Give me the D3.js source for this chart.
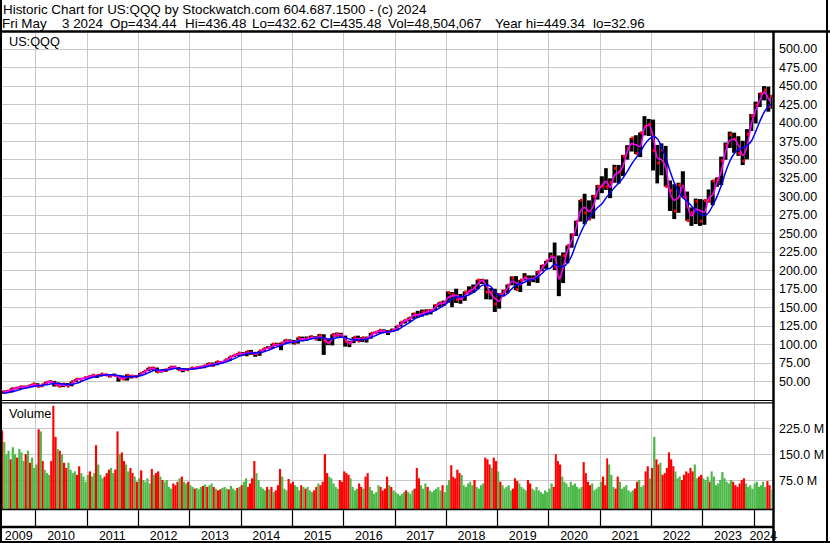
<!DOCTYPE html>
<html>
<head>
<meta charset="utf-8">
<script src="https://cdn.jsdelivr.net/npm/d3@7"></script>
<style>
  html, body { margin: 0; padding: 0; background: #fff; }
  svg { display: block; font-family: Arial, "Liberation Sans", sans-serif; }
</style>
</head>
<body>
<div id="chart"></div>
<script>
// ---- data (monthly price bars from May 2009, semi-monthly volume) ----
const startMonth = "2009-05-01";

const priceHigh = [
  36.3, 37.6, 40.2, 41.3, 42.9, 43.8, 44.1, 46.5,
  47.0, 44.9, 48.6, 50.6, 50.1, 48.0, 46.5, 47.2, 49.2, 52.5, 54.0, 54.7,
  56.8, 58.6, 58.3, 59.8, 59.8, 58.2, 60.0, 58.0, 57.3, 59.0, 58.4, 57.8,
  60.8, 63.7, 68.0, 69.1, 68.2, 64.6, 66.6, 69.0, 70.6, 68.9, 66.3, 67.4,
  68.2, 68.9, 69.8, 71.1, 74.6, 75.1, 76.5, 77.0, 79.1, 82.9, 85.5, 88.1,
  89.3, 90.3, 92.1, 89.5, 91.0, 94.1, 97.1, 100.5, 101.8, 101.8, 106.1, 106.4,
  105.4, 109.0, 110.1, 110.3, 111.4, 110.6, 113.5, 113.3, 106.6, 113.3, 115.5, 115.3,
  111.5, 104.6, 109.5, 111.4, 109.4, 110.2, 115.1, 117.0, 119.1, 120.0, 119.0, 121.0,
  124.5, 130.2, 133.1, 136.2, 142.2, 145.0, 146.7, 147.0, 147.1, 153.6, 156.6, 158.9,
  171.3, 170.5, 175.0, 167.9, 171.3, 178.2, 180.7, 187.2, 188.0, 187.5, 175.9, 174.9,
  168.9, 173.6, 180.6, 191.7, 192.0, 187.0, 196.0, 193.0, 193.0, 198.9, 207.1, 212.6,
  223.8, 237.5, 220.0, 224.0, 233.5, 249.8, 267.0, 295.0, 303.5, 294.6, 302.0, 315.4,
  327.2, 338.2, 324.5, 342.8, 342.6, 356.0, 369.3, 379.3, 382.8, 386.6, 408.7, 404.9,
  404.0, 369.7, 371.8, 368.4, 321.5, 316.5, 318.5, 334.0, 306.5, 285.1, 297.0, 296.4,
  295.6, 309.4, 321.9, 325.7, 353.8, 372.9, 387.7, 386.3, 381.5, 375.3, 391.0, 411.6,
  428.3, 440.2, 449.3, 448.6, 436.5
];

const priceLow = [
  33.0, 34.9, 34.6, 38.9, 39.3, 40.6, 41.0, 42.8,
  42.6, 41.7, 44.7, 47.3, 42.5, 42.6, 41.8, 42.9, 42.8, 48.5, 51.2, 52.6,
  54.3, 55.7, 54.2, 56.2, 57.0, 54.8, 56.6, 49.2, 52.3, 50.6, 53.4, 54.7,
  56.6, 60.5, 63.3, 65.1, 61.5, 61.4, 62.3, 64.9, 67.8, 64.8, 61.9, 63.9,
  66.3, 66.1, 67.2, 67.3, 70.2, 69.6, 71.3, 74.9, 75.5, 77.0, 82.2, 83.9,
  85.0, 83.5, 85.4, 82.8, 84.1, 90.6, 93.5, 93.8, 97.6, 91.7, 100.8, 101.0,
  99.7, 100.6, 104.7, 104.3, 106.9, 106.7, 104.1, 85.4, 98.6, 98.2, 110.0, 108.9,
  96.6, 95.9, 101.2, 104.0, 102.8, 102.1, 107.4, 114.0, 114.8, 115.5, 112.3, 116.2,
  118.4, 123.6, 127.8, 130.4, 134.4, 135.2, 137.3, 138.9, 140.2, 145.3, 150.0, 151.6,
  156.0, 150.0, 155.7, 154.6, 158.6, 168.3, 169.3, 174.5, 181.3, 160.7, 160.4, 143.5,
  148.0, 164.9, 168.9, 179.5, 173.0, 170.5, 186.0, 178.9, 183.8, 182.8, 198.5, 202.0,
  211.0, 200.3, 164.9, 182.6, 209.4, 230.5, 246.3, 265.9, 262.3, 267.9, 269.8, 295.6,
  304.4, 308.8, 297.6, 318.5, 317.4, 327.5, 349.8, 360.7, 357.4, 353.2, 382.6, 381.8,
  335.1, 317.6, 328.6, 313.3, 280.3, 269.3, 277.8, 298.6, 267.2, 260.1, 262.5, 260.1,
  261.5, 291.7, 288.0, 313.0, 315.2, 349.6, 365.6, 359.0, 354.9, 342.4, 350.2, 388.6,
  398.8, 421.0, 430.0, 414.7, 418.5
];

const priceClose = [
  35.6, 36.4, 39.8, 40.4, 42.3, 41.3, 43.6, 46.1,
  42.6, 44.9, 48.2, 49.3, 45.7, 42.9, 45.9, 43.0, 49.1, 52.4, 52.3, 54.5,
  56.1, 57.9, 57.5, 59.4, 58.2, 57.2, 57.7, 54.0, 52.5, 57.7, 56.4, 55.8,
  60.3, 63.5, 67.5, 67.5, 62.4, 64.2, 64.9, 68.8, 68.6, 65.2, 65.6, 65.1,
  67.7, 67.9, 69.0, 70.6, 73.3, 71.2, 76.0, 75.2, 78.9, 82.8, 85.1, 87.9,
  86.2, 89.9, 87.7, 86.9, 90.9, 93.9, 94.9, 100.0, 98.8, 101.4, 105.1, 103.3,
  101.2, 108.6, 105.6, 107.6, 110.0, 106.8, 111.9, 104.3, 101.8, 113.0, 113.5, 111.9,
  103.3, 101.3, 109.2, 104.1, 108.6, 107.5, 114.6, 116.0, 118.7, 116.9, 117.1, 118.5,
  124.2, 129.7, 132.4, 135.5, 140.9, 137.6, 143.3, 145.3, 145.5, 152.4, 155.8, 155.8,
  169.8, 167.0, 160.1, 161.5, 170.6, 171.7, 176.4, 186.7, 186.6, 170.5, 169.8, 154.3,
  167.2, 171.6, 179.7, 189.5, 174.1, 186.7, 190.7, 186.6, 188.8, 197.9, 206.1, 212.6,
  219.1, 204.8, 190.4, 219.9, 233.3, 247.6, 265.8, 294.9, 277.8, 269.4, 300.0, 313.7,
  314.0, 313.0, 319.1, 337.9, 333.4, 354.4, 365.0, 379.1, 357.9, 386.1, 394.8, 397.9,
  362.3, 345.3, 362.5, 313.5, 308.0, 280.3, 315.4, 298.9, 267.3, 278.0, 293.4, 266.3,
  294.5, 294.0, 320.9, 322.5, 348.4, 369.4, 383.7, 377.4, 358.3, 347.9, 384.2, 409.5,
  423.8, 439.0, 444.0, 422.0, 435.5
];

// magenta (short) moving average per month
const maFast = [
  35.0, 36.2, 37.8, 40.0, 41.5, 41.9, 42.5, 44.7,
  44.5, 43.2, 46.8, 49.2, 47.0, 44.4, 44.2, 44.6, 46.0, 50.8, 52.8, 53.6,
  55.5, 57.2, 56.5, 58.2, 58.9, 57.0, 58.2, 55.2, 53.5, 55.0, 56.6, 56.0,
  58.2, 62.1, 65.7, 67.2, 64.5, 63.0, 64.4, 67.0, 69.0, 66.8, 64.6, 65.6,
  66.7, 67.8, 68.6, 69.6, 72.2, 72.4, 74.0, 75.8, 77.2, 80.8, 84.2, 86.5,
  87.2, 87.6, 88.8, 86.5, 88.7, 92.4, 94.7, 97.0, 99.6, 98.2, 103.6, 104.2,
  102.5, 105.0, 107.0, 106.6, 108.8, 108.5, 109.6, 108.4, 101.2, 107.0, 112.9, 112.6,
  106.6, 101.0, 106.0, 107.6, 106.0, 107.6, 111.3, 115.6, 117.2, 118.0, 115.6, 118.0,
  121.4, 127.0, 131.5, 133.5, 138.7, 139.8, 141.0, 143.4, 144.8, 149.4, 154.6, 155.3,
  162.8, 165.2, 166.0, 160.5, 165.8, 171.8, 174.5, 181.2, 186.3, 179.5, 168.0, 162.0,
  158.0, 169.0, 175.5, 185.0, 183.0, 180.0, 189.7, 187.8, 188.0, 192.5, 202.2, 209.5,
  216.8, 218.0, 188.0, 204.0, 226.8, 240.5, 257.2, 280.0, 285.0, 279.5, 287.0, 307.0,
  314.8, 320.4, 312.0, 328.5, 332.5, 341.2, 360.6, 371.5, 369.8, 367.5, 393.0, 396.6,
  380.2, 352.0, 349.6, 339.3, 305.0, 295.0, 298.4, 315.0, 288.2, 273.5, 282.8, 280.6,
  278.6, 297.5, 302.3, 319.6, 334.0, 361.0, 375.8, 377.4, 368.6, 355.5, 368.2, 398.0,
  416.6, 430.5, 441.2, 432.5, 428.0
];

// blue (long) moving average per month
const maSlow = [
  33.5, 34.2, 35.3, 36.8, 38.6, 40.0, 41.1, 42.6,
  43.4, 44.0, 44.8, 46.0, 46.6, 46.5, 46.0, 45.2, 45.2, 46.8, 48.7, 51.2,
  53.3, 55.0, 56.3, 57.6, 58.1, 58.3, 58.2, 57.4, 56.2, 55.6, 55.7, 56.0,
  57.0, 58.8, 61.3, 63.9, 65.0, 65.0, 64.8, 65.6, 66.8, 67.0, 66.6, 66.0,
  66.0, 66.5, 67.5, 68.6, 70.0, 71.3, 72.8, 74.0, 75.6, 77.7, 80.3, 83.0,
  85.0, 86.8, 87.8, 88.0, 88.5, 89.6, 91.5, 94.0, 96.2, 98.2, 100.4, 102.0,
  102.6, 103.8, 104.6, 105.4, 106.8, 107.8, 108.4, 108.5, 106.9, 107.0, 108.7, 109.4,
  108.8, 106.8, 105.8, 105.4, 106.1, 106.7, 108.8, 111.4, 114.0, 115.5, 116.6, 117.3,
  118.9, 121.9, 125.4, 129.0, 133.2, 136.5, 138.6, 140.8, 143.0, 145.3, 148.8, 152.0,
  156.6, 161.0, 163.4, 164.0, 164.6, 166.8, 170.0, 174.4, 179.5, 180.4, 178.0, 171.0,
  166.0, 165.0, 168.6, 175.0, 179.8, 181.6, 183.8, 186.7, 187.6, 190.6, 195.5, 201.0,
  203.0, 208.0, 205.0, 205.0, 210.0, 220.0, 236.0, 250.0, 262.0, 271.0, 278.0, 285.0,
  290.0, 298.0, 305.0, 312.0, 318.0, 325.0, 334.0, 344.0, 352.0, 360.0, 370.0, 377.0,
  381.0, 378.0, 367.0, 352.0, 334.0, 318.0, 306.0, 298.0, 293.0, 287.0, 280.0, 276.0,
  274.0, 278.0, 288.0, 300.0, 315.0, 333.0, 348.0, 358.0, 364.0, 366.0, 369.0, 375.0,
  388.0, 402.0, 414.0, 422.0, 425.0
];

// volume in millions, two bars per month
const volume = [
  219, 185, 150, 160, 135, 170, 150, 140, 165, 155, 130, 150, 160, 125, 140, 110,
  120, 222, 216, 130, 105, 95, 90, 130, 290, 200, 165, 160, 150, 125, 110, 125, 105, 95, 100, 90, 115, 95, 85, 70,
  90, 100, 85, 95, 176, 120, 90, 80, 85, 95, 105, 110, 95, 105, 216, 150, 155, 130, 120, 100, 110, 95, 85, 70,
  80, 103, 75, 70, 80, 65, 107, 90, 95, 100, 85, 75, 70, 75, 55, 50, 65, 60, 70, 80, 85, 70, 65, 70,
  60, 55, 50, 52, 48, 55, 58, 62, 55, 60, 65, 55, 50, 45, 48, 52, 55, 50, 48, 58, 50, 45, 52, 55,
  60, 70, 80, 55, 65, 80, 130, 95, 75, 55, 50, 45, 55, 48, 55, 40, 45, 60, 107, 85, 50, 45, 78, 65,
  70, 60, 55, 45, 60, 55, 50, 55, 45, 40, 45, 55, 65, 60, 70, 150, 95, 85, 80, 65, 55, 50, 75, 70,
  100, 95, 90, 80, 55, 45, 50, 65, 55, 50, 85, 95, 55, 45, 35, 40, 60, 55, 45, 50, 85, 60, 55, 45,
  40, 35, 30, 35, 40, 45, 40, 35, 45, 50, 110, 80, 60, 50, 65, 55, 45, 40, 45, 50, 55, 45, 60, 40,
  60, 75, 118, 85, 80, 105, 95, 90, 60, 55, 65, 70, 60, 75, 55, 50, 60, 65, 140, 135, 120, 110, 140, 130,
  100, 70, 60, 50, 55, 60, 45, 50, 80, 72, 65, 55, 50, 45, 75, 65, 50, 45, 55, 45, 40, 35, 45, 40,
  50, 65, 55, 150, 130, 120, 85, 70, 65, 55, 70, 60, 65, 55, 50, 55, 127, 95, 70, 60, 65, 45, 50, 55,
  70, 85, 60, 138, 120, 90, 55, 50, 85, 70, 50, 55, 60, 45, 40, 45, 50, 70, 75, 55, 60, 100, 115, 80,
  110, 200, 135, 120, 125, 90, 95, 110, 155, 135, 115, 100, 80, 85, 75, 90, 100, 95, 110, 100, 120, 80, 85, 90,
  80, 75, 85, 70, 100, 85, 60, 65, 75, 98, 80, 70, 65, 75, 70, 60, 55, 65, 75, 80, 65, 55, 60, 50,
  65, 70, 55, 60, 70, 55, 72, 60, 48
];

// r = down period, g = up period
const volumeDir = [
  "rgggrggrgggrgrgg",
  "grgrgggrrrgrgrrggggrrggg",
  "grggrgggrrrggrrgrrggrrgr",
  "grggggrgrrgrggggrrrgrggr",
  "ggrgggrgrggrgrrgggrgggrg",
  "rggrrrrgggggrgrgrrrgggrr",
  "rgggrgrgggrrgrrrrgggggrr",
  "rrrggggrrgrrgggggrrrrgrg",
  "gggggrgggrrrgggrggggggrg",
  "ggrrrrrggggggrggggrrrgrr",
  "grgggggrrrggggrrgggggggg",
  "ggrrrrggggggggggrrrrgggg",
  "grrrgggrrgggggggrrgggrrg",
  "rgrrgrrrrrrgggrrrrrrggrr",
  "gggrggggggggggrrrrrrgggg",
  "ggggggrrg"
].join("");

const years = ["2009", "2010", "2011", "2012", "2013", "2014", "2015", "2016",
  "2017", "2018", "2019", "2020", "2021", "2022", "2023", "2024"];
const priceTicks = [50, 75, 100, 125, 150, 175, 200, 225, 250, 275, 300, 325, 350, 375, 400, 425, 450, 475, 500];
const volumeTicks = [75, 150, 225];

const titleLine = "Historic Chart for US:QQQ by Stockwatch.com 604.687.1500 - (c) 2024";
const quoteParts = ["Fri May", "3 2024", "Op=434.44", "Hi=436.48", "Lo=432.62", "Cl=435.48",
  "Vol=48,504,067", "Year hi=449.34", "lo=32.96"];
const quoteX = [2, 62, 110, 185, 252, 320, 388, 495, 593];

// ---- layout ----
const width = 830, height = 543;
const plotLeft = 2, plotRight = 773;
const priceTop = 33, priceBottom = 400;
const volTop = 403, volBottom = 509;

const svg = d3.select('#chart')
  .append('svg')
  .attr('width', width)
  .attr('height', height);

svg.append('rect').attr('width', width).attr('height', height).attr('fill', '#fff');

const parse = d3.utcParse('%Y-%m-%d');
const m0 = parse(startMonth);
const monthStart = i => d3.utcMonth.offset(m0, i);
const lastDay = parse('2024-05-04');

const x = d3.scaleUtc()
  .domain([parse('2009-05-08'), lastDay])
  .range([2, 771]);

const yPrice = d3.scaleLinear().domain([50, 500]).range([381, 48.7]);
const yVol = d3.scaleLinear().domain([0, 300]).range([505.9, 402.4]);

// clip paths
const defs = svg.append('defs');
defs.append('clipPath').attr('id', 'clipPrice').append('rect')
  .attr('x', plotLeft).attr('y', priceTop).attr('width', plotRight - plotLeft).attr('height', priceBottom - priceTop);
defs.append('clipPath').attr('id', 'clipVol').append('rect')
  .attr('x', plotLeft).attr('y', volTop).attr('width', plotRight - plotLeft).attr('height', volBottom - volTop);

const grid = '#c8c8c8';
const yearBounds = years.slice(1).map(y => x(parse(`${y}-01-01`)));

// horizontal grid
svg.append('g').selectAll('line')
  .data(priceTicks).enter().append('line')
  .attr('x1', plotLeft).attr('x2', plotRight)
  .attr('y1', d => Math.round(yPrice(d)) + 0.5).attr('y2', d => Math.round(yPrice(d)) + 0.5)
  .attr('stroke', grid);

svg.append('g').selectAll('line')
  .data(volumeTicks).enter().append('line')
  .attr('x1', plotLeft).attr('x2', plotRight)
  .attr('y1', d => Math.round(yVol(d)) + 0.5).attr('y2', d => Math.round(yVol(d)) + 0.5)
  .attr('stroke', grid);

// vertical grid at year boundaries
const vg = svg.append('g');
yearBounds.forEach(bx => {
  const px = Math.round(bx) + 0.5;
  vg.append('line').attr('x1', px).attr('x2', px).attr('y1', priceTop).attr('y2', priceBottom).attr('stroke', grid);
  vg.append('line').attr('x1', px).attr('x2', px).attr('y1', volTop).attr('y2', volBottom).attr('stroke', grid);
});

// price bars
const months = d3.range(priceHigh.length);
const monthEnd = i => (i === priceHigh.length - 1 ? lastDay : monthStart(i + 1));

const pricePanel = svg.append('g').attr('clip-path', 'url(#clipPrice)');

pricePanel.append('g').selectAll('rect')
  .data(months).enter().append('rect')
  .attr('x', i => x(monthStart(i)))
  .attr('width', i => Math.max(1.5, x(monthEnd(i)) - x(monthStart(i)) - 0.3))
  .attr('y', i => yPrice(priceHigh[i]))
  .attr('height', i => Math.max(1.5, yPrice(priceLow[i]) - yPrice(priceHigh[i])))
  .attr('fill', '#000');

// close marks
pricePanel.append('g').selectAll('rect')
  .data(months).enter().append('rect')
  .attr('x', i => (x(monthStart(i)) + x(monthEnd(i))) / 2 - 0.5)
  .attr('width', 2.5)
  .attr('y', i => yPrice(priceClose[i]) - 1.5)
  .attr('height', 3)
  .attr('fill', '#ff0000');

const monthMid = i => new Date((monthStart(i).getTime() + monthEnd(i).getTime()) / 2);

const lineFast = d3.line()
  .x(i => x(monthMid(i)))
  .y(i => yPrice(maFast[i]))
  .curve(d3.curveMonotoneX);

const lineSlow = d3.line()
  .x(i => x(monthMid(i)))
  .y(i => yPrice(maSlow[i]))
  .curve(d3.curveMonotoneX);

pricePanel.append('path').datum(months)
  .attr('d', lineFast)
  .attr('fill', 'none')
  .attr('stroke', '#ff00ff')
  .attr('stroke-width', 1.6);

pricePanel.append('path').datum(months)
  .attr('d', lineSlow)
  .attr('fill', 'none')
  .attr('stroke', '#0000ff')
  .attr('stroke-width', 1.5);

// volume bars
const volPanel = svg.append('g').attr('clip-path', 'url(#clipVol)');
const halfStart = i => {
  const m = Math.floor(i / 2);
  return i % 2 ? d3.utcDay.offset(monthStart(m), 15) : monthStart(m);
};
const halfEnd = i => {
  const m = Math.floor(i / 2);
  return i % 2 ? monthEnd(m) : (i === volume.length - 1 ? lastDay : d3.utcDay.offset(monthStart(m), 15));
};

volPanel.append('g').selectAll('rect')
  .data(d3.range(volume.length)).enter().append('rect')
  .attr('x', i => x(halfStart(i)))
  .attr('width', i => Math.max(1, x(halfEnd(i)) - x(halfStart(i))))
  .attr('y', i => yVol(volume[i]))
  .attr('height', i => volBottom - yVol(volume[i]))
  .attr('fill', i => volumeDir[i] === 'r' ? '#ff0000' : '#4cb848');

// ---- frame lines ----
const frame = svg.append('g').attr('stroke', '#000');
frame.append('line').attr('x1', 0).attr('x2', width).attr('y1', 31.5).attr('y2', 31.5).attr('stroke-width', 2.5);
frame.append('line').attr('x1', 1).attr('x2', 1).attr('y1', 0).attr('y2', height).attr('stroke-width', 2);
frame.append('line').attr('x1', 827).attr('x2', 827).attr('y1', 0).attr('y2', height).attr('stroke-width', 2);
frame.append('line').attr('x1', plotRight + 0.5).attr('x2', plotRight + 0.5).attr('y1', 31).attr('y2', height).attr('stroke-width', 2.5);
frame.append('line').attr('x1', 0).attr('x2', plotRight).attr('y1', 400.5).attr('y2', 400.5).attr('stroke-width', 1.2);
frame.append('line').attr('x1', 0).attr('x2', plotRight).attr('y1', 402.8).attr('y2', 402.8).attr('stroke-width', 1.2);
frame.append('line').attr('x1', 0).attr('x2', plotRight).attr('y1', 509.5).attr('y2', 509.5).attr('stroke-width', 1.5);
frame.append('line').attr('x1', 0).attr('x2', plotRight).attr('y1', 527).attr('y2', 527).attr('stroke-width', 2.5);
frame.append('line').attr('x1', 0).attr('x2', width).attr('y1', 542).attr('y2', 542).attr('stroke-width', 2);

// year separators in the date strip
frame.append('g').selectAll('line')
  .data(yearBounds).enter().append('line')
  .attr('x1', d => Math.round(d) + 0.5).attr('x2', d => Math.round(d) + 0.5)
  .attr('y1', 510).attr('y2', 527)
  .attr('stroke-width', 1.2);

// ---- text ----
const txt = svg.append('g').attr('fill', '#000');

txt.append('text').attr('x', 3).attr('y', 14).style('font-size', '13.4px').text(titleLine);
quoteParts.forEach((t, k) => {
  txt.append('text').attr('x', quoteX[k]).attr('y', 28).style('font-size', '13.4px').text(t);
});

txt.append('text').attr('x', 9).attr('y', 46).style('font-size', '12.7px').text('US:QQQ');
txt.append('text').attr('x', 9).attr('y', 418).style('font-size', '12.7px').text('Volume');

// price axis labels
const priceAxis = d3.axisRight(yPrice)
  .tickValues(priceTicks)
  .tickFormat(d3.format('.2f'))
  .tickSize(0)
  .tickPadding(0);

svg.append('g')
  .attr('transform', `translate(779,0)`)
  .call(priceAxis)
  .call(g => g.select('.domain').remove())
  .call(g => g.selectAll('text').attr('fill', '#000').style('font-size', '12.5px').style('font-family', 'Arial, "Liberation Sans", sans-serif'));

const volAxis = d3.axisRight(yVol)
  .tickValues(volumeTicks)
  .tickFormat(d => `${d.toFixed(1)} M`)
  .tickSize(0)
  .tickPadding(0);

svg.append('g')
  .attr('transform', `translate(779,0)`)
  .call(volAxis)
  .call(g => g.select('.domain').remove())
  .call(g => g.selectAll('text').attr('fill', '#000').style('font-size', '12.5px').style('font-family', 'Arial, "Liberation Sans", sans-serif'));

// year labels, centred in each year's span
const bounds = [plotLeft].concat(yearBounds, [plotRight]);
txt.append('g').selectAll('text')
  .data(years).enter().append('text')
  .attr('x', (d, k) => (bounds[k] + bounds[k + 1]) / 2)
  .attr('y', 540)
  .attr('text-anchor', 'middle')
  .style('font-size', '12.5px')
  .text(d => d);
</script>
</body>
</html>
